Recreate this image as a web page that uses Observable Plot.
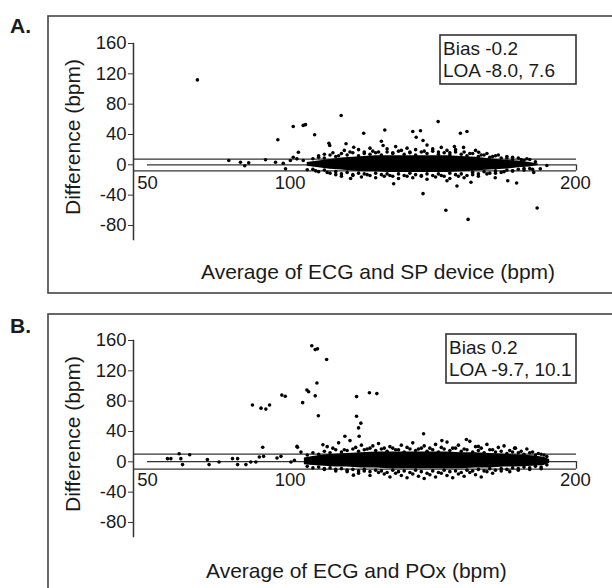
<!DOCTYPE html>
<html><head><meta charset="utf-8">
<script src="https://cdn.jsdelivr.net/npm/d3@7"></script>
<script src="https://cdn.jsdelivr.net/npm/@observablehq/plot@0.6"></script>
<style>
body{margin:0;background:#fff;}
#wrap{width:612px;height:588px;overflow:hidden;position:relative;background:#fff;}
svg{display:block;}
</style></head><body><div id="wrap"></div>
<script>
// ---------- shared scales / ticks ----------
const xTicks = [50, 100, 200];
const yTicks = [160, 120, 80, 40, 0, -40, -80];
const xDomain = [45.1, 200.4];
const yDomain = [-98.5, 160];

// ---------- Panel A: ECG vs SP device ----------
const aLabel = "A.";
const aTitleX = "Average of ECG and SP device (bpm)";
const aBias = -0.2;
const aLoa = [-8.0, 7.6];
const aCoreX  = [106,110,114,118,122,126,130,135,140,145,150,155,160,165,170,175,180,184,187];
const aCoreHi = [3,5,7,9,10,11,12,12,12,12,12,12,11,10,8,6,5,3,1];
const aCoreLo = [-2,-4,-6,-7,-8,-9,-9,-10,-10,-10,-10,-10,-9,-8,-7,-6,-4,-3,-1];
const aPoints = [
  [67.5,112],[78.5,5.7],[82.6,3.4],[84.1,-1.3],[85.5,2.6],[91.4,6.6],[94.9,3.4],[97.6,2.1],[98.4,-5.3],
  [100.1,5.7],[101.1,10],[102.4,7.9],[104.6,5.7],[106,-6.6],[95.7,33],[101.1,50.5],[104.6,52],[105.4,53],
  [108.6,39.6],[102.9,16.6],[117.9,65],[125.8,41.7],[133.2,46],[143,44],[145.7,45],[144.2,36.4],[146.6,32],
  [151.9,57],[159.7,41.7],[162,44],[157.6,24],[160.8,23],[113.6,28.5],[113.9,25.5],[119.6,27.7],[122.3,23.2],
  [132,31],[132.6,25.5],[166.1,16.6],[146.6,-38],[154.6,-60],[186.6,-57],[162.4,-72],[171.9,-17],[176.3,-21],
  [179.4,-24],[136.3,-25],[121.2,-18],[158.5,-28],[155,-21],[163.4,-23],[185.4,-10],[187.7,-5.3],[190,-1],
  [110,10],[112,14],[115,16],[117,12],[119,19],[121,17],[124,20],[126,15],[128,22],[129,18],[131,17],[134,21],
  [136,16],[137,24],[139,19],[141,22],[142,17],[144,20],[147,18],[148,26],[150,21],[152,17],[153,23],[155,19],
  [156,16],[158,20],[161,17],[163,15],[165,19],[167,13],[169,15],[171,11],[173,13],[176,9],[178,10],[181,7],[183,8],
  [109,-8],[113,-10],[116,-13],[118,-15],[122,-14],[125,-16],[127,-13],[130,-17],[133,-15],[135,-14],[138,-18],
  [141,-15],[143,-17],[146,-14],[148,-19],[151,-16],[153,-14],[156,-18],[159,-15],[161,-17],[164,-13],[166,-15],
  [169,-12],[172,-11],[175,-9],[178,-8],[182,-7],[185,-6],
  [108,8],[110,12],[112,9],[114,13],[116,11],[118,15],[120,13],[122,16],[124,12],[126,17],[128,14],[130,16],
  [132,13],[134,17],[136,15],[138,18],[140,14],[142,16],[144,13],[146,17],[148,15],[150,18],[152,14],[154,16],
  [156,13],[158,17],[160,14],[162,12],[164,15],[166,11],[168,13],[170,10],[172,12],[174,9],[176,11],[178,7],
  [180,9],[182,6],[184,7],[186,4],
  [108,-6],[110,-9],[112,-7],[114,-11],[116,-9],[118,-12],[120,-10],[122,-13],[124,-11],[126,-12],[128,-14],
  [130,-11],[132,-13],[134,-12],[136,-15],[138,-12],[140,-14],[142,-11],[144,-13],[146,-15],[148,-12],[150,-14],
  [152,-12],[154,-15],[156,-11],[158,-13],[160,-12],[162,-14],[164,-10],[166,-12],[168,-9],[170,-11],[172,-8],
  [174,-10],[176,-7],[178,-8],[180,-6],[182,-5],[184,-5]
];

// ---------- Panel B: ECG vs POx ----------
const bLabel = "B.";
const bTitleX = "Average of ECG and POx (bpm)";
const bBias = 0.2;
const bLoa = [-9.7, 10.1];
const bCoreX  = [105,108,112,116,120,125,130,135,140,145,150,155,160,165,170,175,180,185,189,191];
const bCoreHi = [5,7,9,10,11,12,13,13,13,13,13,13,12,12,11,10,9,8,6,3];
const bCoreLo = [-4,-5,-6,-7,-7,-8,-8,-9,-9,-9,-9,-9,-9,-8,-8,-7,-7,-6,-5,-2];
const bPoints = [
  [107.6,153],[108.8,148],[109.6,149],[112.8,135],[109.4,104],[105.9,94.8],[106.5,92.5],[108.8,87],[104.4,78],
  [109.9,60.8],[97.1,88],[98.3,86.5],[86.8,75],[89.8,70.8],[91.5,69.5],[92.8,75],[123.3,86],[127.8,91],[130.4,90],
  [123.3,60],[124.8,51],[124,44.7],[124.2,33.7],[119.2,33.7],[146.8,37],[90.4,19.3],[102.4,20.3],[111.5,22.5],
  [122.2,-17.6],[161.8,29.4],[166,20.3],[178.7,18],[153.2,28],
  [57,4.2],[58.2,4.2],[61.1,10.7],[61.7,4.2],[64.8,9.4],[62.3,-3.7],[71,2.9],[71.6,-3.7],[75.1,-0.3],[79.8,4.2],
  [81.6,4.2],[81.6,-3.7],[84.5,-3.7],[86.2,-0.3],[88,-0.3],[89.2,6.3],[90.7,7.2],[95.4,5],[96.8,7.2],[100.3,-0.3],
  [101.5,2],[102.6,19.3],[103.8,12.8],
  [113,20],[115,18],[117,25],[119,16],[121,28],[123,19],[125,22],[127,17],[129,21],[131,24],[133,18],[135,20],
  [137,16],[139,22],[141,19],[143,25],[145,17],[147,21],[149,18],[151,23],[153,19],[155,26],[157,18],[159,22],
  [161,17],[163,27],[165,20],[167,18],[169,23],[171,16],[173,19],[175,21],[177,15],[179,18],[181,14],[183,17],
  [185,13],[187,11],[189,9],
  [112,-10],[116,-12],[120,-13],[124,-15],[126,-12],[128,-18],[131,-14],[133,-16],[135,-20],[137,-15],[139,-18],
  [141,-21],[143,-16],[145,-19],[147,-22],[149,-17],[151,-20],[153,-15],[155,-18],[157,-21],[159,-16],[161,-19],
  [163,-14],[165,-17],[167,-20],[169,-13],[171,-15],[174,-12],[177,-13],[180,-11],[184,-10],[188,-9],
  [106,9],[108,12],[110,10],[112,14],[114,12],[116,16],[118,13],[120,15],[122,17],[124,14],[126,16],[128,18],
  [130,15],[132,17],[134,14],[136,18],[138,16],[140,13],[142,17],[144,15],[146,18],[148,14],[150,16],[152,13],
  [154,17],[156,15],[158,18],[160,14],[162,16],[164,13],[166,15],[168,12],[170,16],[172,13],[174,14],[176,11],
  [178,13],[180,12],[182,10],[184,12],[186,9],[188,10],[190,7],
  [106,-6],[108,-8],[110,-7],[112,-9],[114,-8],[116,-10],[118,-9],[120,-11],[122,-10],[124,-12],[126,-10],
  [128,-13],[130,-11],[132,-12],[134,-14],[136,-11],[138,-13],[140,-12],[142,-14],[144,-11],[146,-13],[148,-15],
  [150,-12],[152,-14],[154,-11],[156,-13],[158,-12],[160,-14],[162,-11],[164,-12],[166,-10],[168,-12],[170,-9],
  [172,-11],[174,-9],[176,-10],[178,-8],[180,-9],[182,-7],[184,-8],[186,-6],[188,-7],[190,-4]
];

const yTitle = "Difference (bpm)";
const FONT = "'Liberation Sans', Arial, Helvetica, sans-serif";
const INK = "#1a1a1a";

function panel(cfg) {
  const pts = cfg.points.map(([x, y]) => ({x, y}));
  const core = cfg.coreX.map((x, i) => ({x, hi: cfg.coreHi[i], lo: cfg.coreLo[i]}));
  const svg = Plot.plot({
    width: 612, height: 297,
    marginLeft: 133, marginRight: 36, marginTop: 43, marginBottom: 58,
    x: {domain: xDomain, axis: null},
    y: {domain: yDomain, axis: null},
    style: {fontFamily: FONT, color: INK, background: "white", overflow: "visible"},
    marks: [
      Plot.ruleY(cfg.loa, {stroke: "#333", strokeWidth: 1.3}),
      Plot.ruleY([cfg.bias], {x1: xTicks[0], x2: xDomain[1], stroke: "#333", strokeWidth: 1.3}),
      Plot.ruleX([xDomain[1]], {y1: cfg.loa[0], y2: cfg.bias, stroke: "#333", strokeWidth: 1.3}),
      Plot.areaY(core, {x: "x", y1: "lo", y2: "hi", fill: "#000", curve: "linear"}),
      Plot.dot(pts, {x: "x", y: "y", r: 1.8, fill: "#000"}),
      Plot.frame({anchor: "left", stroke: "#333", strokeWidth: 1.5}),
      Plot.axisY(yTicks, {tickSize: 5, tickPadding: 2, fontSize: 18.5, tickFormat: d => String(d), stroke: "#333", fill: INK}),
      Plot.text(xTicks, {x: d => d, y: 0, dy: 18, fontSize: 18.5, fill: INK, text: d => String(d)})
    ]
  });
  const s = d3.select(svg);
  const txt = () => s.append("text").attr("font-family", FONT).attr("fill", INK).attr("text-anchor", "start");
  // panel border
  s.append("rect").attr("x", 48).attr("y", cfg.boxTop).attr("width", 620).attr("height", 277)
    .attr("fill", "none").attr("stroke", "#444").attr("stroke-width", 1.6);
  // panel letter
  txt().attr("x", 10).attr("y", cfg.letterY).attr("font-size", 21).attr("font-weight", "bold").text(cfg.label);
  // y title
  txt().attr("transform", `translate(80,${cfg.yTitleY}) rotate(-90)`).attr("text-anchor", "middle")
    .attr("font-size", 21).text(yTitle);
  // x title
  txt().attr("x", cfg.xTitleX).attr("y", cfg.xTitleY).attr("font-size", 21).text(cfg.titleX);
  // legend box
  const lines = [`Bias ${cfg.bias.toFixed(1)}`, `LOA ${cfg.loa[0].toFixed(1)}, ${cfg.loa[1].toFixed(1)}`];
  s.append("rect").attr("x", cfg.legLeft).attr("y", cfg.legTop).attr("width", 576 - cfg.legLeft).attr("height", 49)
    .attr("fill", "white").attr("stroke", "#333").attr("stroke-width", 1.6);
  lines.forEach((t, i) => {
    txt().attr("x", cfg.legLeft + 3).attr("y", cfg.legTop + 20 + i * 22).attr("font-size", 19).text(t);
  });
  return svg;
}

const wrap = document.getElementById("wrap");
wrap.appendChild(panel({
  label: aLabel, titleX: aTitleX, bias: aBias, loa: aLoa, points: aPoints,
  coreX: aCoreX, coreHi: aCoreHi, coreLo: aCoreLo,
  boxTop: 16, letterY: 33, yTitleY: 137, xTitleX: 201, xTitleY: 279, legLeft: 440, legTop: 35
}));
wrap.appendChild(panel({
  label: bLabel, titleX: bTitleX, bias: bBias, loa: bLoa, points: bPoints,
  coreX: bCoreX, coreHi: bCoreHi, coreLo: bCoreLo,
  boxTop: 17, letterY: 36, yTitleY: 137, xTitleX: 206, xTitleY: 281, legLeft: 446, legTop: 37
}));
</script>
</body></html>
